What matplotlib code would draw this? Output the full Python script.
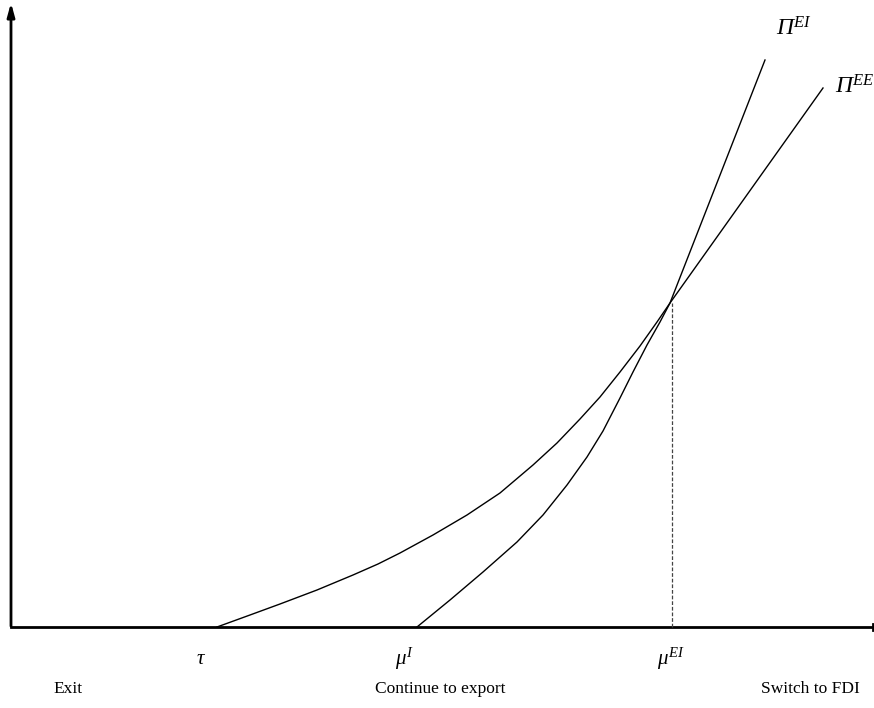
import matplotlib
matplotlib.use('Agg')
import matplotlib.pyplot as plt

plt.rcParams['font.family'] = ['Liberation Serif', 'DejaVu Serif']
plt.rcParams['mathtext.fontset'] = 'custom'
plt.rcParams['mathtext.rm'] = 'Liberation Serif:italic'
plt.rcParams['mathtext.it'] = 'Liberation Serif:italic'

# profit curves (x = productivity, y = profit)
ee_x = [206, 239, 269, 306, 342, 367, 389, 422, 456, 489, 522, 546, 569, 589, 609, 629, 646, 659, 812]
ee_y = [0, 12, 23, 37, 52, 63, 74, 92, 112, 134, 162, 184, 208, 230, 255, 281, 305, 324, 539]
ei_x = [406, 439, 472, 506, 532, 556, 576, 592, 609, 622, 636, 649, 659, 754]
ei_y = [0, 27, 55, 85, 112, 142, 170, 196, 229, 255, 282, 305, 324, 567]

cut_x = [206, 406, 661]
label_x = [190, 393, 660]
cut_labels = [r'$\tau$', r'$\mu^{I}$', r'$\mu^{EI}$']
zone_x = [57, 429, 799]
zone_labels = ['Exit', 'Continue to export', 'Switch to FDI']

fig = plt.figure(figsize=(8.74, 7.08), dpi=100)
ax = fig.add_axes([0, 0, 1, 1])
ax.set_xlim(-11, 863)
ax.set_ylim(-81, 627)
ax.axis('off')

# axes
ax.annotate('', xy=(0, 627), xytext=(0, -2),
            arrowprops=dict(arrowstyle='-|>,head_length=0.8,head_width=0.22', lw=2, color='black'))
ax.plot([0, 862], [0, 0], color='black', lw=2)
ax.plot([862, 862], [-3, 3], color='black', lw=2)

ax.plot(ee_x, ee_y, color='black', lw=1)
ax.plot(ei_x, ei_y, color='black', lw=1)
ax.plot([cut_x[2], cut_x[2]], [0, ee_y[-2]], color='#444444', lw=0.9, ls=(0, (3, 1.5)))

ax.text(765, 598, r'$\Pi^{EI}$', fontsize=17, ha='left', va='center')
ax.text(824, 540, r'$\Pi^{EE}$', fontsize=17, ha='left', va='center')

for x, lab in zip(label_x, cut_labels):
    ax.text(x, -32, lab, fontsize=15, ha='center', va='center')
for x, lab in zip(zone_x, zone_labels):
    ax.text(x, -62, lab, fontsize=12.5, ha='center', va='center')

fig.savefig('out.png', dpi=100)
